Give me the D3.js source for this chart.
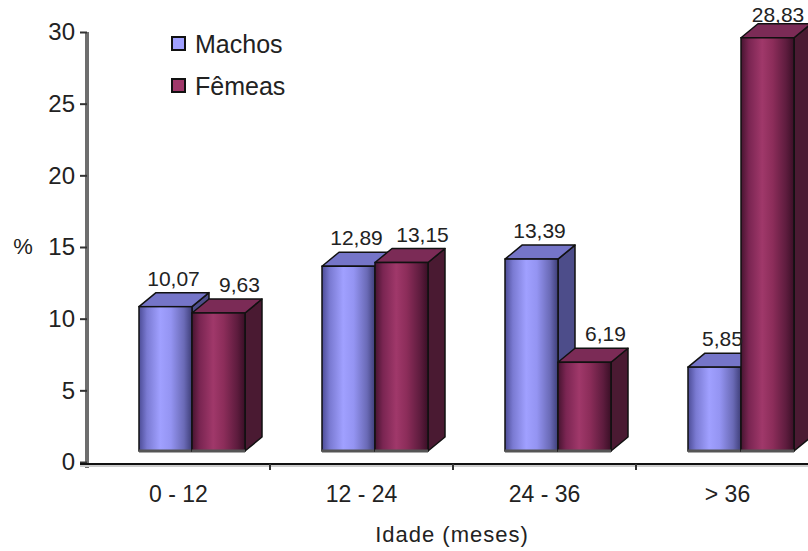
<!DOCTYPE html>
<html>
<head>
<meta charset="utf-8">
<script src="https://cdn.jsdelivr.net/npm/d3@7"></script>
<style>
  body { margin: 0; background: #fff; }
  text { font-family: "Liberation Sans", Arial, sans-serif; fill: #222; }
</style>
</head>
<body>
<div class="box"></div>
<script>
// donnees
const categorias = ['0 - 12', '12 - 24', '24 - 36', '> 36'];
const series = ['Machos', 'Fêmeas'];
const machos = [10.07, 12.89, 13.39, 5.85];
const femeas = [9.63, 13.15, 6.19, 28.83];
const yTicks = [0, 5, 10, 15, 20, 25, 30];

const dims = {width: 808, height: 551};
const prof = {dx: 17, dy: -14}; // profondeur 3D
const decalFront = 11;          // face avant plus haute que l'axe

const svg = d3.select('.box')
              .append('svg')
              .attr('width', dims.width)
              .attr('height', dims.height);

const fmt = d3.formatLocale({decimal: ',', thousands: '.', grouping: [3], currency: ['', '']}).format('.2f');

const x0 = d3.scaleBand().domain(categorias).range([87, 819]);
const x1 = d3.scaleBand().domain(series).range([52, 158]);
const y = d3.scaleLinear().domain([0, 30]).range([462, 32]);

// couleurs
const couleurs = {
  'Machos': {top: '#7575c8', side: '#4d4d8a', stops: ['#4c4c96', '#7a7ad2', '#a0a0ff', '#9494f2', '#6a6ab6', '#3e3e78']},
  'Fêmeas': {top: '#7b2b56', side: '#4a1a32', stops: ['#461430', '#7a2552', '#a0386a', '#8c2d5a', '#5e1c3e', '#3a0f26']}
};

const defs = svg.append('defs');
series.forEach((s, i) => {
  const g = defs.append('linearGradient').attr('id', 'grad' + i);
  const offs = [0, 0.15, 0.4, 0.6, 0.85, 1];
  couleurs[s].stops.forEach((c, j) => g.append('stop').attr('offset', offs[j]).attr('stop-color', c));
});

// axe y
const yAxis = svg.append('g')
  .attr('transform', 'translate(87,0)')
  .call(d3.axisLeft(y).tickValues(yTicks).tickSize(7).tickSizeOuter(0).tickPadding(5));
yAxis.select('.domain').attr('stroke', '#6e6e6e').attr('stroke-width', 4).attr('d', 'M0,32V468');
yAxis.selectAll('.tick line').attr('stroke', '#333').attr('stroke-width', 2);
yAxis.selectAll('.tick text').style('font-size', '24px').attr('fill', '#222');

// axe x
svg.append('line').attr('x1', 80).attr('x2', dims.width).attr('y1', 466).attr('y2', 466)
   .attr('stroke', '#ccc').attr('stroke-width', 2);
svg.append('line').attr('x1', 80).attr('x2', dims.width).attr('y1', 464).attr('y2', 464)
   .attr('stroke', '#111').attr('stroke-width', 2);
svg.selectAll('.xtick')
   .data(categorias.slice(1))
   .enter()
   .append('line')
   .attr('x1', d => x0(d)).attr('x2', d => x0(d))
   .attr('y1', 464).attr('y2', 470)
   .attr('stroke', '#333').attr('stroke-width', 2);

svg.selectAll('.xlabel')
   .data(categorias)
   .enter()
   .append('text')
   .attr('x', d => x0(d) + x0.bandwidth() / 2)
   .attr('y', 502)
   .attr('text-anchor', 'middle')
   .style('font-size', '23px')
   .text(d => d);

// titres
svg.append('text').attr('x', 452).attr('y', 542).attr('text-anchor', 'middle')
   .style('font-size', '22px').style('letter-spacing', '1px').text('Idade (meses)');
svg.append('text').attr('x', 23).attr('y', 254).attr('text-anchor', 'middle')
   .style('font-size', '22px').text('%');

// barres
const donnee = [];
categorias.forEach((c, i) => {
  donnee.push({cat: c, serie: 'Machos', idx: 0, val: machos[i]});
  donnee.push({cat: c, serie: 'Fêmeas', idx: 1, val: femeas[i]});
});

const w = x1.bandwidth();
const bars = svg.selectAll('.bar')
  .data(donnee)
  .enter()
  .append('g')
  .attr('class', 'bar');

bars.each(function(d) {
  const g = d3.select(this);
  const xl = x0(d.cat) + x1(d.serie);
  const yt = y(d.val) - decalFront;
  const yb = y(0) - decalFront;
  const col = couleurs[d.serie];

  // cote
  g.append('path')
   .attr('d', `M${xl + w},${yt}L${xl + w + prof.dx},${yt + prof.dy}L${xl + w + prof.dx},${yb + prof.dy}L${xl + w},${yb}Z`)
   .attr('fill', col.side).attr('stroke', '#111').attr('stroke-width', 1.5).attr('stroke-linejoin', 'round');
  // dessus
  g.append('path')
   .attr('d', `M${xl},${yt}L${xl + prof.dx},${yt + prof.dy}L${xl + w + prof.dx},${yt + prof.dy}L${xl + w},${yt}Z`)
   .attr('fill', col.top).attr('stroke', '#111').attr('stroke-width', 1.5).attr('stroke-linejoin', 'round');
  // face
  g.append('rect')
   .attr('x', xl).attr('y', yt)
   .attr('width', w).attr('height', yb - yt)
   .attr('fill', `url(#grad${d.idx})`)
   .attr('stroke', '#111').attr('stroke-width', 1.5);
  g.append('line')
   .attr('x1', xl).attr('x2', xl + w).attr('y1', yb).attr('y2', yb)
   .attr('stroke', '#555').attr('stroke-width', 3);
});

// etiquettes (gardees dans le cadre)
const decalLabel = {'Machos': 8, 'Fêmeas': 21};
svg.selectAll('.val')
   .data(donnee)
   .enter()
   .append('text')
   .attr('x', d => Math.min(x0(d.cat) + x1(d.serie) + w / 2 + decalLabel[d.serie], dims.width - 30))
   .attr('y', d => Math.max(y(d.val) - decalFront - 21, 22))
   .attr('text-anchor', 'middle')
   .style('font-size', '21px')
   .text(d => fmt(d.val));

// legende
const leg = svg.append('g').attr('transform', 'translate(172,37)');
series.forEach((s, i) => {
  leg.append('rect').attr('x', 0).attr('y', i * 42).attr('width', 13).attr('height', 13)
     .attr('fill', couleurs[s].stops[2]).attr('stroke', '#111').attr('stroke-width', 2);
  leg.append('text').attr('x', 23).attr('y', i * 42 + 16)
     .style('font-size', '25px').text(s);
});
</script>
</body>
</html>
